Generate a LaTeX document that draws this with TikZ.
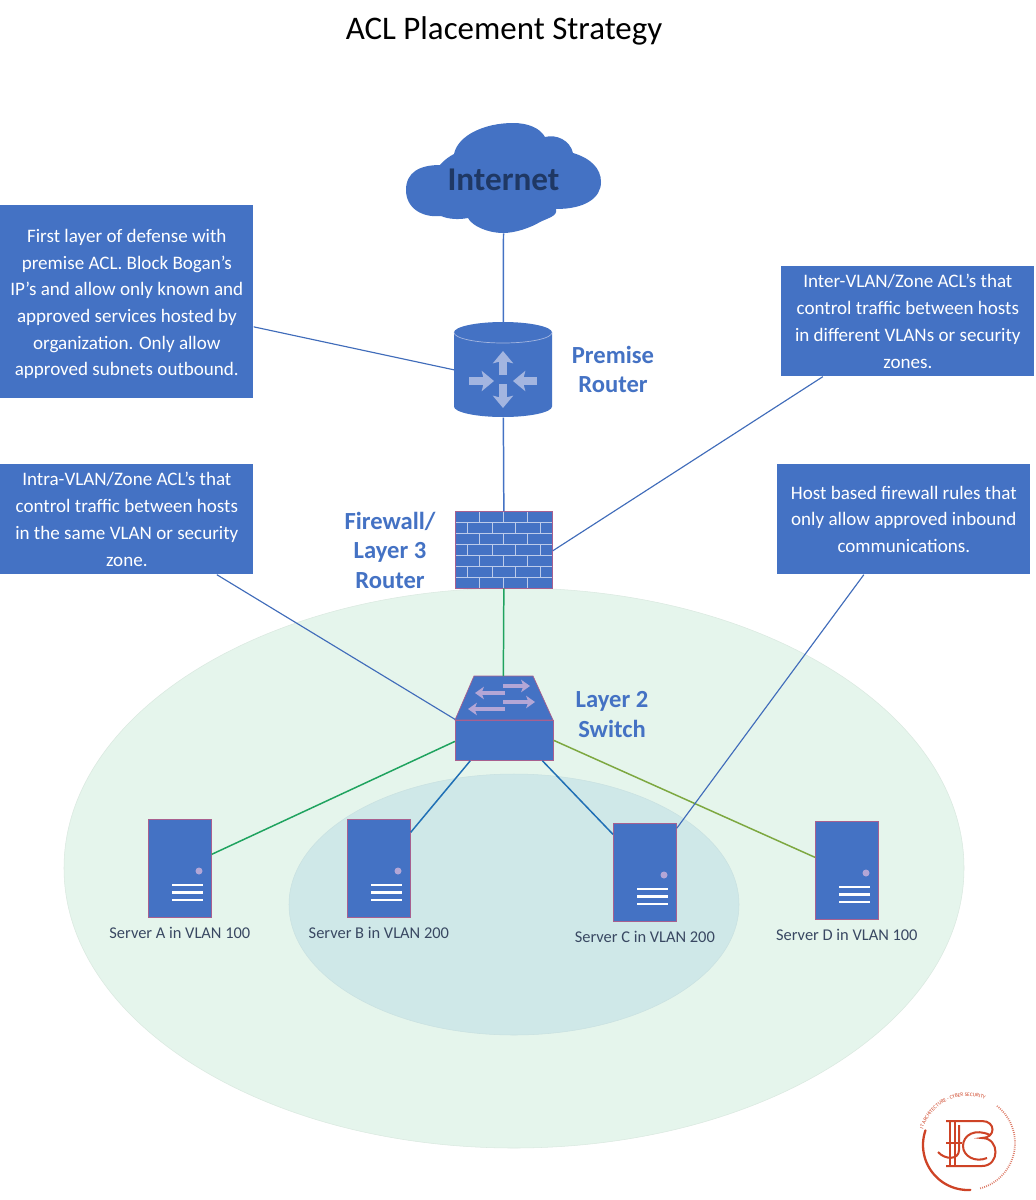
\documentclass[tikz,border=0pt]{standalone}
\usepackage{fontspec}
\setmainfont{Carlito}
\usetikzlibrary{calc,arrows.meta,decorations.text}
\definecolor{boxblue}{HTML}{4472C4}
\definecolor{edgepink}{HTML}{A8608F}
\definecolor{darktext}{HTML}{1F3864}
\definecolor{zonegreen}{HTML}{E5F5EC}
\definecolor{zoneteal}{HTML}{CFE8E8}
\definecolor{paleicon}{HTML}{A3B5E0}
\definecolor{palebrick}{HTML}{BCCBEA}
\definecolor{palemauve}{HTML}{B3A6D6}
\definecolor{linkgreen}{HTML}{1FA35F}
\definecolor{linkolive}{HTML}{7DA840}
\definecolor{linkblue}{HTML}{1F6FB5}
\definecolor{logored}{HTML}{CE4326}
\tikzset{
	notebox/.style={fill=boxblue, text=white, anchor=north west, align=center, inner sep=0pt, minimum width=5.06cm, minimum height=2.2cm, font=\fontsize{10.85}{15.3}\selectfont},
	devlabel/.style={text=boxblue, align=center, font=\bfseries\fontsize{14}{16.8}\selectfont},
	hostbox/.style={fill=boxblue, draw=edgepink, line width=0.4pt, anchor=north west, inner sep=0pt, minimum width=1.26cm, minimum height=1.96cm},
	hostlabel/.style={text=darktext!70!black!85, font=\fontsize{9.35}{11}\selectfont},
	link/.style={line width=0.85pt, draw=boxblue},
	noteline/.style={line width=0.65pt, draw=boxblue!90!darktext},
	bigarrow/.style={line width=4.2pt, draw=paleicon, -{Stealth[length=7pt,width=11.5pt,inset=1.5pt]}},
	smallarrow/.style={line width=1.8pt, draw=palemauve, -{Stealth[length=5pt,width=7pt,inset=1.2pt]}},
	brickline/.style={draw=palebrick, line width=0.5pt},
	logoline/.style={draw=logored, line width=1.15pt},
}
\begin{document}
\begin{tikzpicture}[x=0.02cm, y=-0.02cm]
	\useasboundingbox (0,0) rectangle (1035,1200);
	\fill[white] (0,0) rectangle (1035,1200);

	\coordinate (cloudmid)  at (503.5, 180);
	\coordinate (routertop) at (454,   322);
	\coordinate (firewalltop) at (455, 511);
	\coordinate (switchtop) at (455,   676);

	% zones
	\filldraw[fill=zonegreen, draw=zonegreen!95!black, line width=0.3pt] (514,868) ellipse (450 and 280);
	\filldraw[fill=zoneteal, draw=zoneteal!97!black, line width=0.3pt] (514,904.5) ellipse (225 and 130.5);

	\node[anchor=center, font=\fontsize{18.75}{22}\selectfont] (TITLE) at (504,31) {ACL Placement Strategy};

	% cloud
	\fill[boxblue] (406,190) .. controls (406,172) and (420,165) .. (440,165)
		.. controls (444,160) and (450,156) .. (454,154)
		.. controls (458,135) and (485,123) .. (513,123)
		.. controls (528,123) and (540,128) .. (545,137)
		.. controls (556,134) and (570,140) .. (573,153)
		.. controls (590,158) and (601,168) .. (601,182)
		.. controls (601,198) and (585,209) .. (556,209)
		.. controls (558,216) and (548,218) .. (540,222)
		.. controls (530,228) and (515,233) .. (503,233)
		.. controls (488,233) and (472,226) .. (468,218)
		.. controls (458,220) and (448,219) .. (441,216)
		.. controls (422,218) and (406,208) .. (406,190) -- cycle;
	\node[inner sep=0pt, minimum width=3.9cm, minimum height=2.12cm, text=darktext, font=\bfseries\fontsize{18.9}{22}\selectfont] (INT) at (cloudmid) {Internet};

	% premise router
	\node[anchor=north west, inner sep=0pt, minimum width=1.96cm, minimum height=1.9cm] (ROU) at (routertop) {};
	\fill[boxblue] (454,332.5) -- (454,406.5) arc[start angle=180, end angle=360, x radius=49, y radius=-10.5] -- (552,332.5) arc[start angle=0, end angle=180, x radius=49, y radius=-10.5] -- cycle;
	\draw[paleicon, line width=0.4pt] (454,332.5) arc[start angle=180, end angle=360, x radius=49, y radius=-10.5];
	\draw[bigarrow] (503,375) -- (503,351);
	\draw[bigarrow] (503,384) -- (503,408);
	\draw[bigarrow] (469,381) -- (494,381);
	\draw[bigarrow] (537,381) -- (513,381);
	\node[devlabel] (ROULAB) at (613,369.5) {Premise\\Router};

	% firewall
	\node[fill=boxblue, anchor=north west, inner sep=0pt, minimum width=1.94cm, minimum height=1.54cm] (FIR) at (firewalltop) {};
	\foreach \y in {522,533,544,555,566,577} {
		\draw[brickline] (455,\y) -- (552,\y);
	}
	\foreach \y in {511,533,555,577} {
		\foreach \x in {479,503,527} {
			\draw[brickline] (\x,\y) -- (\x,\y+11);
		}
	}
	\foreach \y in {522,544,566} {
		\foreach \x in {467,492,515,540} {
			\draw[brickline] (\x,\y) -- (\x,\y+11);
		}
	}
	\draw[edgepink, line width=0.4pt] (FIR.north west) rectangle (FIR.south east);
	\node[devlabel] (FIRLAB) at (390,550) {Firewall/\\Layer 3\\Router};

	% switch
	\node[anchor=north west, inner sep=0pt, minimum width=1.96cm, minimum height=1.68cm] (SWI) at (switchtop) {};
	\filldraw[fill=boxblue, draw=edgepink, line width=0.4pt] (474,676) -- (533,676) -- (553,720) -- (455,720) -- cycle;
	\filldraw[fill=boxblue, draw=edgepink, line width=0.4pt] (455,720) rectangle (553,760);
	\draw[smallarrow] (503,686) -- (530,686);
	\draw[smallarrow] (503,702) -- (535,702);
	\draw[smallarrow] (505,693) -- (475,693);
	\draw[smallarrow] (505,709) -- (468,709);
	\node[devlabel] (SWILAB) at (612,714.5) {Layer 2\\Switch};

	% servers
	\foreach \name/\x/\y/\lab in {SRVA/148/819/Server A in VLAN 100, SRVB/347/819/Server B in VLAN 200, SRVC/613/823/Server C in VLAN 200, SRVD/815/821/Server D in VLAN 100} {
		\node[hostbox] (\name) at (\x,\y) {};
		\fill[palemauve] ($(\name.north west)+(51,52)$) circle (3.5);
		\foreach \dy in {66,73.7,81} {
			\draw[white, line width=1.4pt] ($(\name.north west)+(24,\dy)$) -- ($(\name.north west)+(55,\dy)$);
		}
		\node[hostlabel] (\name LAB) at ($(\name.south)+(0,15.5)$) {\lab};
	}

	% notes
	\node[notebox, minimum height=3.86cm, font=\fontsize{10.85}{15.15}\selectfont] (NOTA) at (0,205) {\rule{0pt}{10pt}First layer of defense with\\premise ACL. Block Bogan’s\\IP’s and allow only known and\\approved services hosted by\\organization. Only allow\\approved subnets outbound.};
	\node[notebox] (NOTB) at (781,266) {Inter-VLAN/Zone ACL’s that\\control traffic between hosts\\in different VLANs or security\\zones.};
	\node[notebox] (NOTC) at (0,464) {Intra-VLAN/Zone ACL’s that\\control traffic between hosts\\in the same VLAN or security\\zone.};
	\node[notebox] (NOTD) at (777,464) {Host based firewall rules that\\only allow approved inbound\\communications.};

	% links
	\draw[link] (INT.south) -- (ROU.north);
	\draw[link] (ROU.south) -- (FIR.north);
	\draw[link, linkgreen] (FIR.south) -- ($(SWI.north)+(-1,0)$);
	\draw[link, linkgreen] ($(SWI.west)+(0,23)$) -- ($(SRVA.east)+(0,-14)$);
	\draw[link, linkblue] ($(SWI.south)+(-34,0)$) -- ($(SRVB.east)+(0,-36)$);
	\draw[link, linkblue] ($(SWI.south)+(38,0)$) -- ($(SRVC.west)+(0,-38)$);
	\draw[link, linkolive] ($(SWI.east)+(0,22)$) -- ($(SRVD.west)+(0,-13)$);

	% note lines
	\draw[noteline] ($(NOTA.east)+(0,25)$) -- (ROU.west);
	\draw[noteline] ($(NOTB.south)+(-85,0)$) -- ($(FIR.east)+(0,1)$);
	\draw[noteline] ($(NOTC.south)+(90,0)$) -- ($(SWI.west)+(0,1)$);
	\draw[noteline] ($(NOTD.south)+(-40,0)$) -- ($(SRVC.east)+(0,-44)$);

	% logo
	\draw[logoline, line width=1.3pt, line cap=round] plot[domain=87:199, samples=30] ({968+45*cos(\x)},{1145+45*sin(\x)});
	\begin{scope}[y=0.02cm]
		\path[decorate, decoration={text along path, text={|\fontsize{3}{3.5}\selectfont\color{logored}|IT ARCHITECTURE - CYBER SECURITY}, text align=left}] plot[domain=197:305, samples=40] ({968+47*cos(\x)},{-(1143+47*sin(\x))});
	\end{scope}
	\draw[logored!70, line width=1pt, dash pattern=on 0.5pt off 0.7pt] plot[domain=308:435, samples=40] ({968+47*cos(\x)},{1143+47*sin(\x)});
	\draw[logoline] (946,1121) -- (982,1121) .. controls (996,1121) and (996,1138) .. (982,1138) .. controls (1000,1138) and (1000,1166) .. (982,1166) -- (946,1166);
	\draw[logoline] (950,1121) -- (950,1166);
	\draw[logoline] (955,1121) -- (955,1166);
	\draw[logoline] (946,1143) -- (962,1143);
	\draw[logoline] (959,1125) -- (959,1150) .. controls (959,1160) and (945,1160) .. (938,1152);
	\draw[logoline] (990,1135) .. controls (975,1128) and (963,1135) .. (963,1146) .. controls (963,1156) and (975,1163) .. (987,1158);
\end{tikzpicture}
\end{document}
